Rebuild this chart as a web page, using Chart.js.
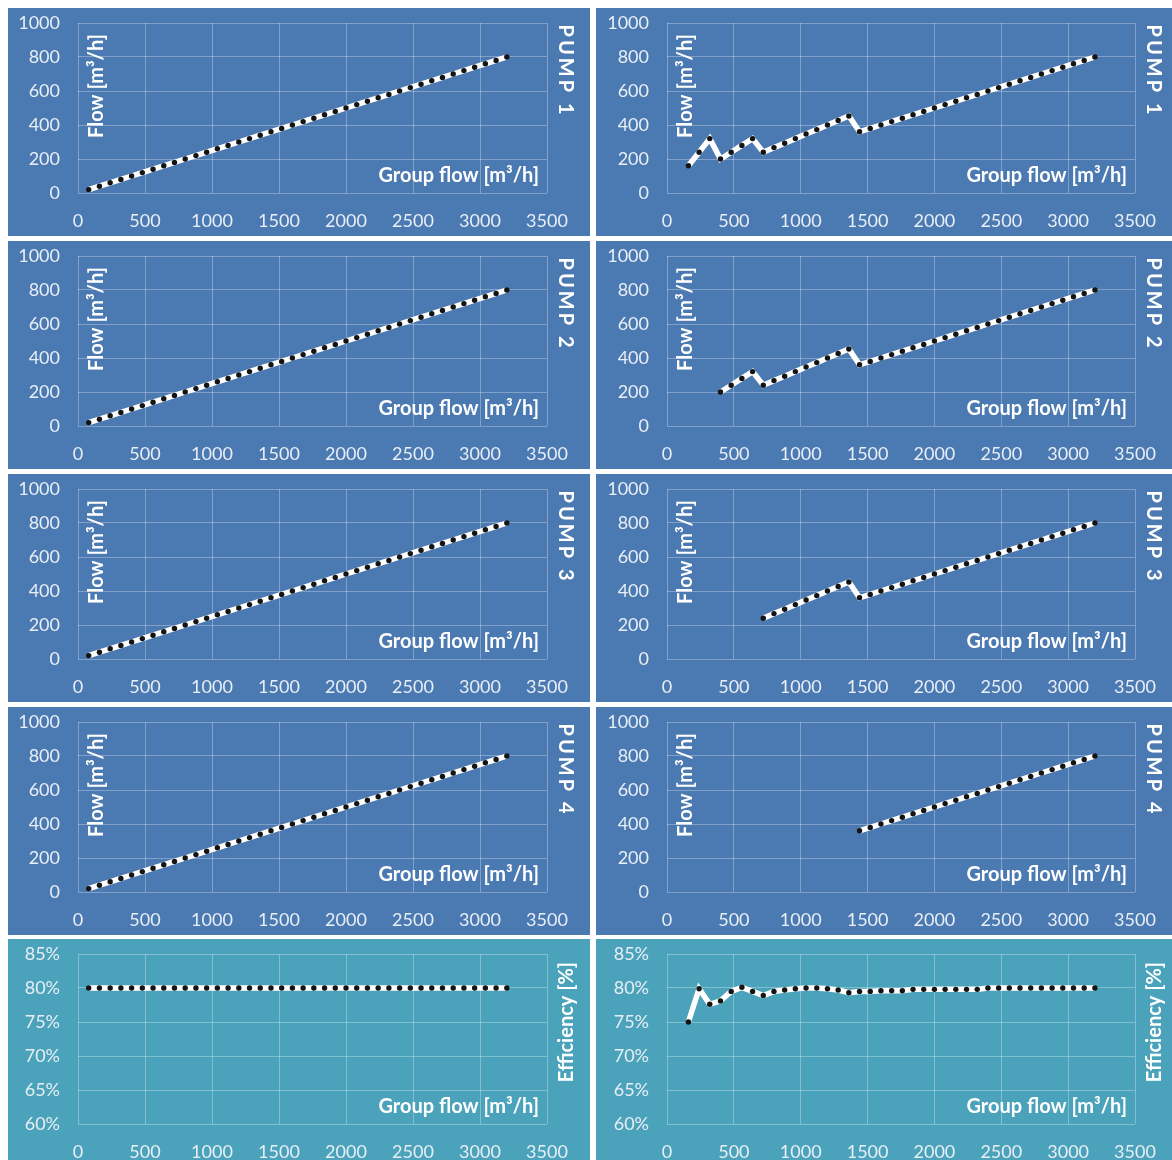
<!DOCTYPE html>
<html>
<head>
<meta charset="utf-8">
<script src="https://cdn.jsdelivr.net/npm/chart.js@4.4.1/dist/chart.umd.min.js"></script>
<style>
  html, body { margin: 0; padding: 0; background: #ffffff; width: 1172px; height: 1160px; overflow: hidden; }
  .panel { position: absolute; }
  .panel canvas { display: block; }
</style>
</head>
<body>
<div id="grid"></div>
<script>
// Group flow of the pump station [m3/h]
const groupFlow = [80, 160, 240, 320, 400, 480, 560, 640, 720, 800,
  880, 960, 1040, 1120, 1200, 1280, 1360, 1440, 1520, 1600,
  1680, 1760, 1840, 1920, 2000, 2080, 2160, 2240, 2320, 2400,
  2480, 2560, 2640, 2720, 2800, 2880, 2960, 3040, 3120, 3200];

// All four pumps running, flow shared equally [m3/h]
const equalSplitFlow = [20, 40, 60, 80, 100, 120, 140, 160, 180, 200,
  220, 240, 260, 280, 300, 320, 340, 360, 380, 400,
  420, 440, 460, 480, 500, 520, 540, 560, 580, 600,
  620, 640, 660, 680, 700, 720, 740, 760, 780, 800];

// Group efficiency with all pumps running [%]
const equalSplitEfficiency = [80, 80, 80, 80, 80, 80, 80, 80, 80, 80,
  80, 80, 80, 80, 80, 80, 80, 80, 80, 80,
  80, 80, 80, 80, 80, 80, 80, 80, 80, 80,
  80, 80, 80, 80, 80, 80, 80, 80, 80, 80];

// Pumps switched on one after another [m3/h]
const stagedPump1 = [null, 160, 240, 320, 200, 240, 280, 320, 240, 267,
  293, 320, 347, 373, 400, 427, 453, 360, 380, 400,
  420, 440, 460, 480, 500, 520, 540, 560, 580, 600,
  620, 640, 660, 680, 700, 720, 740, 760, 780, 800];
const stagedPump2 = [null, null, null, null, 200, 240, 280, 320, 240, 267,
  293, 320, 347, 373, 400, 427, 453, 360, 380, 400,
  420, 440, 460, 480, 500, 520, 540, 560, 580, 600,
  620, 640, 660, 680, 700, 720, 740, 760, 780, 800];
const stagedPump3 = [null, null, null, null, null, null, null, null, 240, 267,
  293, 320, 347, 373, 400, 427, 453, 360, 380, 400,
  420, 440, 460, 480, 500, 520, 540, 560, 580, 600,
  620, 640, 660, 680, 700, 720, 740, 760, 780, 800];
const stagedPump4 = [null, null, null, null, null, null, null, null, null, null,
  null, null, null, null, null, null, null, 360, 380, 400,
  420, 440, 460, 480, 500, 520, 540, 560, 580, 600,
  620, 640, 660, 680, 700, 720, 740, 760, 780, 800];

// Group efficiency with staged pumps [%]
const stagedEfficiency = [null, 75.0, 79.9, 77.6, 78.1, 79.5, 80.1, 79.5, 78.9, 79.5,
  79.7, 79.9, 80.0, 80.0, 79.9, 79.7, 79.3, 79.5, 79.5, 79.6,
  79.6, 79.6, 79.8, 79.8, 79.8, 79.8, 79.8, 79.8, 79.8, 80.0,
  80.0, 80.0, 80.0, 80.0, 80.0, 80.0, 80.0, 80.0, 80.0, 80.0];

// Axis ticks
const flowTicks = [0, 200, 400, 600, 800, 1000];
const efficiencyTicks = [60, 65, 70, 75, 80, 85];
const groupFlowTicks = [0, 500, 1000, 1500, 2000, 2500, 3000, 3500];

// Row and column texts
const pumpNames = ['PUMP 1', 'PUMP 2', 'PUMP 3', 'PUMP 4'];
const xTitle = 'Group flow [m\u00B3/h]';
const flowTitle = 'Flow [m\u00B3/h]';
const efficiencyTitle = 'Efficiency [%]';

const BLUE = '#4b79b1';
const TEAL = '#4aa3ba';
const TICK_COLOR = '#e8eef6';
const TITLE_COLOR = '#ffffff';
const GRID_COLOR = 'rgba(255,255,255,0.30)';

// Text drawn inside each panel: axis titles and the row label at the right
const panelText = {
  id: 'panelText',
  afterDraw(chart, args, o) {
    const { ctx, chartArea: a } = chart;
    ctx.save();
    ctx.fillStyle = TITLE_COLOR;
    ctx.font = 'bold 20px Lato';

    ctx.textAlign = 'right';
    ctx.textBaseline = 'alphabetic';
    ctx.fillText(o.xTitle, a.right - 8, a.bottom - 11);

    if (o.yTitle) {
      ctx.save();
      ctx.translate(a.left + 18.5, a.top + 63);
      ctx.rotate(-Math.PI / 2);
      ctx.textAlign = 'center';
      ctx.textBaseline = 'middle';
      ctx.fillText(o.yTitle, 0, 0);
      ctx.restore();
    }

    if (o.side) {
      ctx.save();
      if (o.sideDown) {
        ctx.translate(a.right + 18.5, a.top + 48);
        ctx.rotate(Math.PI / 2);
        ctx.letterSpacing = '3px';
      } else {
        ctx.translate(a.right + 19.5, a.top + 68);
        ctx.rotate(-Math.PI / 2);
      }
      ctx.textAlign = 'center';
      ctx.textBaseline = 'middle';
      ctx.fillText(o.side, 0, 0);
      ctx.restore();
    }
    ctx.restore();
  }
};

function points(values) {
  const out = [];
  values.forEach((v, i) => { if (v !== null) out.push({ x: groupFlow[i], y: v }); });
  return out;
}

const rowTops = [8, 241, 474, 707, 939];
const colLefts = [8, 596];
const colWidths = [582, 576];
const yAxisWidths = [70, 71];
const PLOT_W = [469, 468];
const PLOT_TOP = 15;
const PLOT_H = 170;
const PANEL_H = 228;

const rows = [
  { left: equalSplitFlow, right: stagedPump1, side: pumpNames[0], eff: false },
  { left: equalSplitFlow, right: stagedPump2, side: pumpNames[1], eff: false },
  { left: equalSplitFlow, right: stagedPump3, side: pumpNames[2], eff: false },
  { left: equalSplitFlow, right: stagedPump4, side: pumpNames[3], eff: false },
  { left: equalSplitEfficiency, right: stagedEfficiency, side: efficiencyTitle, eff: true }
];

const host = document.getElementById('grid');

rows.forEach((row, r) => {
  [row.left, row.right].forEach((values, c) => {
    const div = document.createElement('div');
    div.className = 'panel';
    div.style.left = colLefts[c] + 'px';
    div.style.top = rowTops[r] + 'px';
    const canvas = document.createElement('canvas');
    canvas.width = colWidths[c];
    canvas.height = PANEL_H;
    canvas.style.background = row.eff ? TEAL : BLUE;
    div.appendChild(canvas);
    host.appendChild(div);

    const yTicks = row.eff ? efficiencyTicks : flowTicks;

    new Chart(canvas, {
      type: 'line',
      data: {
        datasets: [{
          data: points(values),
          borderColor: '#ffffff',
          borderWidth: 5.5,
          tension: 0,
          pointRadius: 2.7,
          pointHoverRadius: 2.7,
          pointBackgroundColor: '#141414',
          pointBorderWidth: 0
        }]
      },
      options: {
        responsive: false,
        animation: false,
        devicePixelRatio: 1,
        layout: { padding: { left: 0, top: PLOT_TOP, right: colWidths[c] - yAxisWidths[c] - PLOT_W[c], bottom: 0 } },
        plugins: {
          legend: { display: false },
          tooltip: { enabled: false },
          panelText: {
            xTitle: xTitle,
            yTitle: row.eff ? null : flowTitle,
            side: row.side,
            sideDown: !row.eff
          }
        },
        scales: {
          x: {
            type: 'linear',
            min: groupFlowTicks[0],
            max: groupFlowTicks[groupFlowTicks.length - 1],
            afterBuildTicks: (s) => { s.ticks = groupFlowTicks.map(v => ({ value: v })); },
            afterFit: (s) => {
              s.height = PANEL_H - PLOT_TOP - PLOT_H;
              s.paddingLeft = 0; s.paddingRight = 0;
            },
            grid: { color: GRID_COLOR, lineWidth: 1, drawTicks: false },
            border: { display: false },
            ticks: {
              color: TICK_COLOR,
              font: { family: 'Lato', size: 18 },
              padding: 17,
              maxRotation: 0,
              callback: (v) => String(v)
            }
          },
          y: {
            min: yTicks[0],
            max: yTicks[yTicks.length - 1],
            afterBuildTicks: (s) => { s.ticks = yTicks.map(v => ({ value: v })); },
            afterFit: (s) => {
              s.width = yAxisWidths[c];
              s.paddingTop = 0; s.paddingBottom = 0;
            },
            grid: { color: GRID_COLOR, lineWidth: 1, drawTicks: false },
            border: { display: false },
            ticks: {
              color: TICK_COLOR,
              font: { family: 'Lato', size: 18 },
              padding: 18,
              callback: (v) => row.eff ? v + '%' : String(v)
            }
          }
        }
      },
      plugins: [panelText]
    });
  });
});
</script>
</body>
</html>
